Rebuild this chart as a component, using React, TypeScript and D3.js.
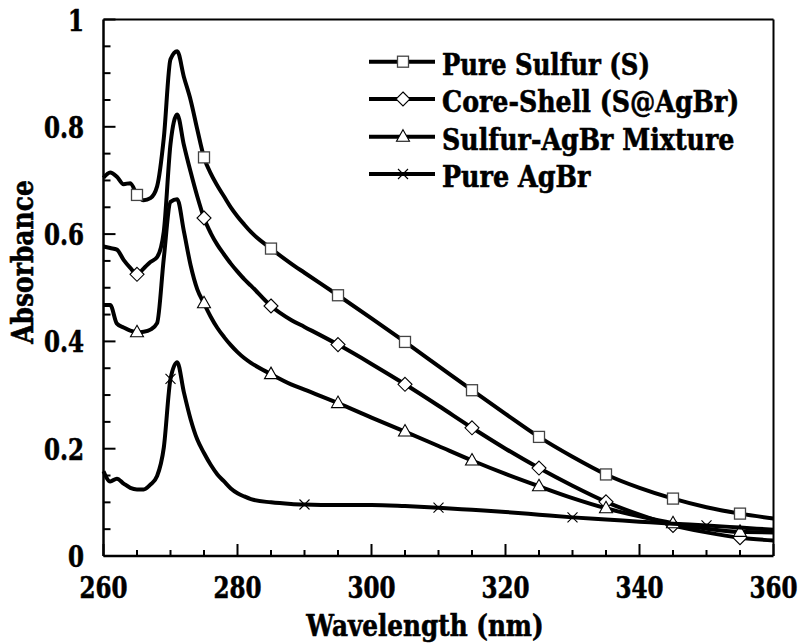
import React from "react";
import * as d3 from "d3";

// Absorbance spectra, shared wavelength grid (nm)
const wavelengths = [
  260, 261, 262, 263, 264, 265, 266, 267, 268, 269, 270, 271, 272, 273, 274, 275,
  276, 277, 278, 279, 280, 281, 282, 285, 288, 290, 295, 300, 305, 310, 315, 320,
  325, 330, 335, 340, 345, 350, 355, 360,
];

const pureSulfur = [
  0.705, 0.715, 0.707, 0.693, 0.695, 0.673, 0.663, 0.667, 0.689, 0.779, 0.926, 0.941,
  0.893, 0.85, 0.795, 0.743, 0.713, 0.69, 0.67, 0.65, 0.633, 0.618, 0.604, 0.573,
  0.545, 0.528, 0.486, 0.443, 0.399, 0.354, 0.309, 0.265, 0.222, 0.185, 0.152, 0.127,
  0.107, 0.091, 0.079, 0.07,
];

const coreShell = [
  0.577, 0.574, 0.571, 0.552, 0.537, 0.525, 0.536, 0.548, 0.557, 0.605, 0.768, 0.823,
  0.766, 0.716, 0.67, 0.63, 0.602, 0.58, 0.562, 0.545, 0.53, 0.516, 0.504, 0.466,
  0.44, 0.427, 0.394, 0.358, 0.32, 0.28, 0.239, 0.2, 0.164, 0.131, 0.101, 0.077,
  0.057, 0.044, 0.034, 0.029,
];

const sulfurAgBrMixture = [
  0.468, 0.468, 0.433, 0.426, 0.42, 0.417, 0.418, 0.422, 0.434, 0.555, 0.66, 0.665,
  0.605, 0.542, 0.497, 0.471, 0.446, 0.425, 0.408, 0.393, 0.38, 0.369, 0.36, 0.339,
  0.32, 0.31, 0.285, 0.258, 0.232, 0.205, 0.178, 0.153, 0.13, 0.108, 0.089, 0.074,
  0.061, 0.051, 0.045, 0.044,
];

const pureAgBr = [
  0.158, 0.139, 0.144, 0.135, 0.127, 0.124, 0.124, 0.133, 0.149, 0.202, 0.33, 0.361,
  0.305, 0.255, 0.217, 0.192, 0.17, 0.152, 0.139, 0.126, 0.117, 0.111, 0.106, 0.1,
  0.097, 0.096, 0.095, 0.095, 0.093, 0.09, 0.086, 0.082, 0.077, 0.072, 0.068, 0.064,
  0.06, 0.057, 0.053, 0.049,
];

const seriesNames = [
  "Pure Sulfur (S)",
  "Core-Shell (S@AgBr)",
  "Sulfur-AgBr Mixture",
  "Pure AgBr",
];
const seriesValues = [pureSulfur, coreShell, sulfurAgBrMixture, pureAgBr];
const seriesMarkers = ["square", "diamond", "triangle", "cross"];
const markerWavelengths = [265, 275, 285, 295, 305, 315, 325, 335, 345, 355];
const agbrMarkerWavelengths = [270, 290, 310, 330, 350];

const xMajorTicks = [260, 280, 300, 320, 340, 360];
const xMinorTicks = d3.range(260, 361, 5);
const yMajorTicks = [0, 0.2, 0.4, 0.6, 0.8, 1];
const yMinorTicks = d3.range(0, 1.0001, 0.05);

const WIDTH = 803;
const HEIGHT = 643;
const FONT = '"DejaVu Serif", "Liberation Serif", serif';
const FONT_SIZE = 29;
// Times-like advance widths (em) used to set a condensed text length
const CHAR_EM: Record<string, number> = {
  "0": 0.5, "1": 0.5, "2": 0.5, "3": 0.5, "4": 0.5, "5": 0.5, "6": 0.5, "7": 0.5, "8": 0.5, "9": 0.5,
  ".": 0.25, " ": 0.25, "(": 0.333, ")": 0.333, "-": 0.333, "@": 0.93,
  A: 0.722, B: 0.667, C: 0.722, M: 0.944, P: 0.611, S: 0.556, W: 1.0,
  a: 0.5, b: 0.556, c: 0.444, e: 0.444, f: 0.333, g: 0.5, h: 0.556, i: 0.278, l: 0.278,
  m: 0.833, n: 0.556, o: 0.5, r: 0.444, s: 0.389, t: 0.333, u: 0.556, v: 0.5, x: 0.5,
};
const EM = 32;
const textWidth = (s: string) =>
  s.split("").reduce((acc, ch) => acc + (CHAR_EM[ch] ?? 0.5), 0) * EM;

function Label({
  children,
  ...rest
}: { children: string } & React.SVGProps<SVGTextElement>) {
  return (
    <text
      fontSize={FONT_SIZE}
      style={{ fontFamily: FONT, fontWeight: 700 }}
      textLength={textWidth(children)}
      lengthAdjust="spacingAndGlyphs"
      fill="#000"
      stroke="#000"
      strokeWidth={0.6}
      {...rest}
    >
      {children}
    </text>
  );
}

function Marker({ kind, x, y }: { kind: string; x: number; y: number }) {
  if (kind === "square") {
    return (
      <rect x={x - 5.5} y={y - 5.5} width={11} height={11} fill="#fff" stroke="#444" strokeWidth={1.3} />
    );
  }
  if (kind === "diamond") {
    const r = 7;
    return (
      <path
        d={`M${x},${y - r}L${x + r},${y}L${x},${y + r}L${x - r},${y}Z`}
        fill="#fff"
        stroke="#000"
        strokeWidth={1.1}
      />
    );
  }
  if (kind === "triangle") {
    return (
      <path
        d={`M${x},${y - 7}L${x + 6.5},${y + 4.5}L${x - 6.5},${y + 4.5}Z`}
        fill="#fff"
        stroke="#000"
        strokeWidth={1.1}
      />
    );
  }
  const r = 5;
  return (
    <path
      d={`M${x - r},${y - r}L${x + r},${y + r}M${x - r},${y + r}L${x + r},${y - r}`}
      stroke="#000"
      strokeWidth={1.1}
      fill="none"
    />
  );
}

export default function App() {
  const left = 103.5;
  const right = 773.5;
  const top = 19.5;
  const bottom = 556;

  const x = d3.scaleLinear().domain([260, 360]).range([left, right]);
  const y = d3.scaleLinear().domain([0, 1]).range([bottom, top]);

  const line = d3
    .line<number>()
    .x((_, i) => x(wavelengths[i]))
    .y((d) => y(d))
    .curve(d3.curveMonotoneX);

  const legendY = [61.7, 99, 136.7, 174];

  return (
    <svg
      width={WIDTH}
      height={HEIGHT}
      style={{ position: "absolute", left: 0, top: 0, background: "#fff" }}
    >
      <rect x={0} y={0} width={WIDTH} height={HEIGHT} fill="#fff" />

      {/* plot frame */}
      <line x1={left} x2={right} y1={top} y2={top} stroke="#000" strokeWidth={2} />
      <line x1={right} x2={right} y1={top} y2={bottom} stroke="#000" strokeWidth={2} />
      <line x1={left} x2={left} y1={top} y2={bottom} stroke="#000" strokeWidth={2.5} />
      <line x1={left} x2={right} y1={bottom} y2={bottom} stroke="#000" strokeWidth={2.5} />

      {/* x ticks (inward) */}
      {xMinorTicks.map((t) => {
        const major = xMajorTicks.includes(t);
        return (
          <line
            key={`xt${t}`}
            x1={x(t)}
            x2={x(t)}
            y1={bottom}
            y2={bottom - (major ? 12 : 6)}
            stroke="#000"
            strokeWidth={2}
          />
        );
      })}
      {xMajorTicks.map((t) => (
        <Label key={`xl${t}`} x={x(t)} y={598} textAnchor="middle">
          {String(t)}
        </Label>
      ))}

      {/* y ticks (inward) */}
      {yMinorTicks.map((t) => {
        const major = yMajorTicks.some((m) => Math.abs(m - t) < 1e-6);
        return (
          <line
            key={`yt${t.toFixed(2)}`}
            x1={left}
            x2={left + (major ? 12 : 7)}
            y1={y(t)}
            y2={y(t)}
            stroke="#000"
            strokeWidth={2}
          />
        );
      })}
      {yMajorTicks.map((t) => (
        <Label key={`yl${t}`} x={84} y={y(t) + 11} textAnchor="end">
          {String(t)}
        </Label>
      ))}

      {/* axis titles */}
      <Label x={425} y={636} textAnchor="middle">
        Wavelength (nm)
      </Label>
      <Label transform="translate(33,262) rotate(-90)" textAnchor="middle">
        Absorbance
      </Label>

      {/* series */}
      {seriesValues.map((vals, si) => {
        const marks = si === 3 ? agbrMarkerWavelengths : markerWavelengths;
        return (
          <g key={seriesNames[si]}>
            <path
              d={line(vals) || ""}
              fill="none"
              stroke="#000"
              strokeWidth={4}
              strokeLinejoin="round"
              strokeLinecap="butt"
            />
            {marks.map((w) => {
              const idx = wavelengths.indexOf(w);
              return <Marker key={w} kind={seriesMarkers[si]} x={x(w)} y={y(vals[idx])} />;
            })}
          </g>
        );
      })}

      {/* legend */}
      {seriesNames.map((name, i) => (
        <g key={`lg${name}`}>
          <line x1={369} x2={435} y1={legendY[i]} y2={legendY[i]} stroke="#000" strokeWidth={4} />
          <Marker kind={seriesMarkers[i]} x={403} y={legendY[i]} />
          <Label x={442} y={legendY[i] + 13}>
            {name}
          </Label>
        </g>
      ))}
    </svg>
  );
}
